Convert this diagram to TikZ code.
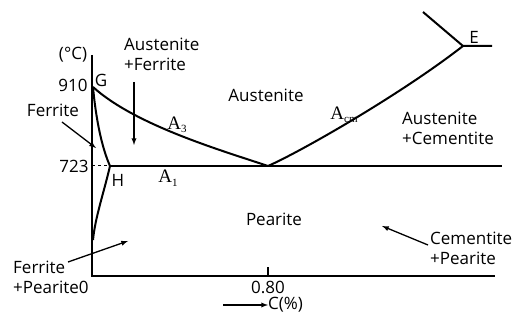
\documentclass[tikz,border=0pt]{standalone}
\usepackage{fontspec}
\setmainfont{Open Sans}
\newfontfamily\serifA{Liberation Serif}
\newcommand{\critA}[1]{{\serifA A\raisebox{-3.5pt}{\fontsize{11}{11}\selectfont #1}}}
\usetikzlibrary{arrows}
\begin{document}
\begin{tikzpicture}[x=1pt,y=-1pt]
\tikzstyle{every node}=[inner sep=0pt,font=\fontsize{17}{20}\selectfont]
\tikzstyle{phase}=[align=left,anchor=west]
\tikzstyle{crit}=[font=\fontsize{19}{20}\selectfont]
\tikzstyle{axis}=[line width=2.2pt]
\tikzstyle{curve}=[line width=2pt]
\tikzstyle{pointer}=[line width=1.3pt,arrows={-latex}]
\useasboundingbox (0,0) rectangle (519,320);
% axes
\coordinate (T) at (92,55);
\coordinate (O) at (92,276);
\coordinate (X) at (495,276);
\coordinate (tk) at (268,276);
\coordinate (tktop) at (268,267);
\draw[axis] (T) -- (O) -- (X);
\draw[axis] (tk) -- (tktop);
% characteristic points
\coordinate (G) at (93,87);
\coordinate (H) at (110,166);
\coordinate (S) at (268,166);
\coordinate (E) at (463,46);
\coordinate (F0) at (93,240);
\coordinate (A1end) at (502,166);
\coordinate (t723) at (92,166);
\coordinate (Etop) at (423,12);
\coordinate (Eright) at (492,46);
% phase lines
\draw[curve] (G) .. controls (135,125) and (220,150) .. (S);
\draw[curve] (S) .. controls (300,152) and (400,95) .. (E);
\draw[curve] (G) .. controls (96,120) and (102,148) .. (H);
\draw[curve] (H) .. controls (104,192) and (95,218) .. (F0);
\draw[curve] (H) -- (A1end);
\draw[curve] (Etop) -- (E) -- (Eright);
\draw[line width=1pt,dashed] (t723) -- (H);
% axis labels
\node (degC) at (73,55) {(°C)};
\node (l910) at (73,85) {910};
\node (l723) at (74,166) {723};
\node (l080) at (268,287) {0.80};
\node[anchor=west] (lC) at (268,305) {C(\%)};
\coordinate (cstart) at (223,305);
\draw[pointer] (cstart) -- (lC.west);
% point labels
\node (lG) at (101,80) {G};
\node (lH) at (118,180) {H};
\node (lE) at (474,37) {E};
\node[crit] (lA3) at (177,125) {\critA{3}};
\node[crit] (lA1) at (168,178) {\critA{1}};
\node[crit] (lAcm) at (344,115) {\critA{cm}};
% phase regions
\node (aus) at (266,95) {Austenite};
\node (pear) at (274,219) {Pearite};
\node[phase] (ausfer) at (124,54) {Austenite\\+Ferrite};
\node[phase] (auscem) at (402,128) {Austenite\\+Cementite};
\node[phase] (cempear) at (430,248) {Cementite\\+Pearite};
\node[phase] (ferpear) at (13,277) {Ferrite\\+Pearite0};
\node (fer) at (53,110) {Ferrite};
% pointers
\coordinate (p1a) at (62,122); \coordinate (p1b) at (96,148);
\coordinate (p2a) at (134,82); \coordinate (p2b) at (134,145);
\coordinate (p3a) at (428,245); \coordinate (p3b) at (382,226);
\coordinate (p4a) at (68,262); \coordinate (p4b) at (128,241);
\draw[pointer] (p1a) -- (p1b);
\draw[pointer] (p2a) -- (p2b);
\draw[pointer] (p3a) -- (p3b);
\draw[pointer] (p4a) -- (p4b);
\end{tikzpicture}
\end{document}
